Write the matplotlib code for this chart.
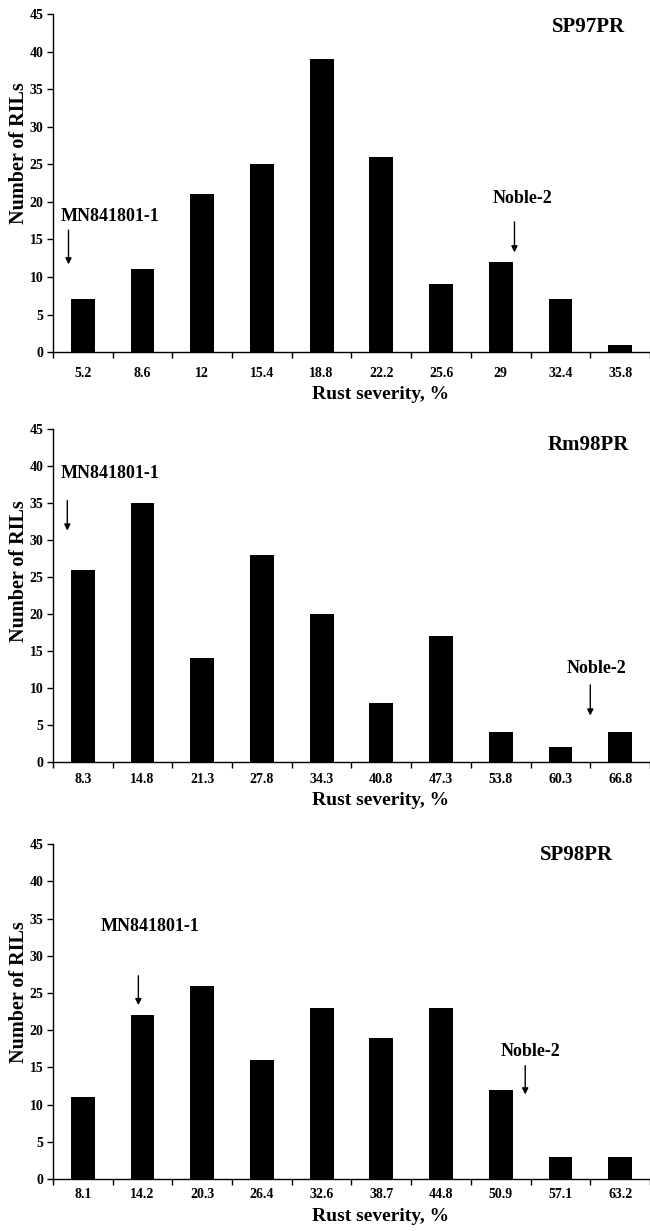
import matplotlib
matplotlib.use("Agg")
import matplotlib.pyplot as plt
import numpy as np

plt.rcParams['font.family'] = ['Liberation Serif', 'DejaVu Serif']
plt.rcParams['font.weight'] = 'bold'

# severity classes (tick labels) and RIL counts for each environment
sp97_labels = ['5.2', '8.6', '12', '15.4', '18.8', '22.2', '25.6', '29', '32.4', '35.8']
sp97_counts = [7, 11, 21, 25, 39, 26, 9, 12, 7, 1]

rm98_labels = ['8.3', '14.8', '21.3', '27.8', '34.3', '40.8', '47.3', '53.8', '60.3', '66.8']
rm98_counts = [26, 35, 14, 28, 20, 8, 17, 4, 2, 4]

sp98_labels = ['8.1', '14.2', '20.3', '26.4', '32.6', '38.7', '44.8', '50.9', '57.1', '63.2']
sp98_counts = [11, 22, 26, 16, 23, 19, 23, 12, 3, 3]

titles = ['SP97PR', 'Rm98PR', 'SP98PR']
parents = ['MN841801-1', 'Noble-2']

# axes rectangles [left, bottom, width, height] in figure fraction
rects = [[0.0815, 0.714, 0.9185, 0.2746],
         [0.0815, 0.381, 0.9185, 0.2705],
         [0.0815, 0.0422, 0.9185, 0.272]]

# per-panel layout tweaks
title_pos = [(8.47, 43.3), (8.47, 42.8), (8.27, 43.5)]
xtick_pad = [10.5, 8, 6.5]
xlabel_y = [-0.099, -0.0916, -0.085]
ylabel_y = [0.589, 0.574, 0.558]

# annotation placement per panel: (text x, text y, arrow x, arrow top, arrow tip)
ann = [
    [(0.46, 18.1, -0.24, 16.6, 11.3), (7.37, 20.5, 7.23, 17.7, 12.9)],
    [(0.46, 39.0, -0.26, 35.7, 30.9), (8.60, 12.7, 8.50, 10.8, 5.9)],
    [(1.12, 33.9, 0.93, 27.7, 23.0), (7.50, 17.2, 7.41, 15.6, 11.0)],
]

fig = plt.figure(figsize=(6.5, 12.31), dpi=100)

panels = [(sp97_labels, sp97_counts), (rm98_labels, rm98_counts), (sp98_labels, sp98_counts)]
for i, (labels, counts) in enumerate(panels):
    ax = fig.add_axes(rects[i])
    x = np.arange(len(labels))
    ax.bar(x, counts, width=0.4, color='black')
    ax.set_xlim(-0.5, len(labels) - 0.5)
    ax.set_ylim(0, 45)
    ax.set_yticks(range(0, 46, 5))
    ax.set_xticks(x)
    ax.set_xticklabels(labels)
    ax.set_xticks(np.arange(-0.5, len(labels), 1), minor=True)
    ax.tick_params(axis='x', which='major', length=0, pad=xtick_pad[i], labelsize=10)
    ax.tick_params(axis='x', which='minor', length=4, width=1, direction='out')
    ax.tick_params(axis='y', length=4, width=1, direction='out', pad=3, labelsize=10)
    for s in ['top', 'right']:
        ax.spines[s].set_visible(False)
    ax.spines['left'].set_linewidth(1)
    ax.spines['bottom'].set_linewidth(1)
    ax.set_xlabel('Rust severity, %', fontsize=14, fontweight='bold')
    ax.xaxis.set_label_coords(0.548, xlabel_y[i])
    ax.set_ylabel('Number of RILs', fontsize=14.5, fontweight='bold')
    ax.yaxis.set_label_coords(-0.040, ylabel_y[i])
    ax.text(title_pos[i][0], title_pos[i][1], titles[i], ha='center', va='center',
            fontsize=15, fontweight='bold')
    for name, (tx, ty, axx, atop, atip) in zip(parents, ann[i]):
        ax.text(tx, ty, name, ha='center', va='center', fontsize=13, fontweight='bold')
        ax.annotate('', xy=(axx, atip), xytext=(axx, atop),
                    arrowprops=dict(arrowstyle='-|>', color='black', lw=1, mutation_scale=9))

fig.savefig('out.png', dpi=100)
